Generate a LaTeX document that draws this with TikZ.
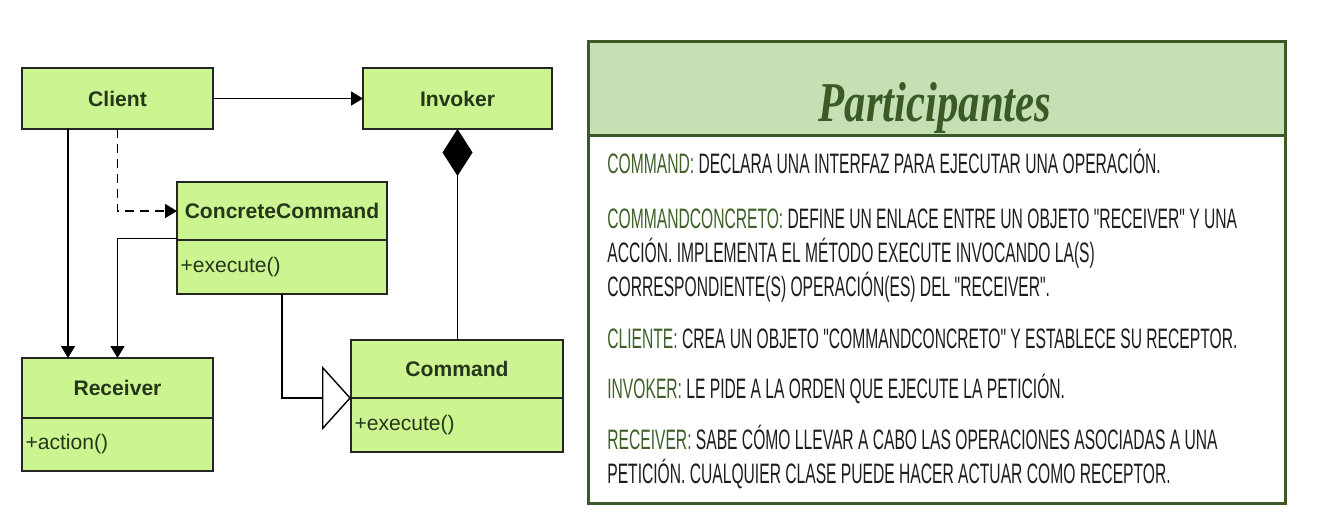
\documentclass[tikz,border=0pt]{standalone}
\usepackage{fontspec}
\usetikzlibrary{arrows.meta,positioning}
\newfontfamily\umlfont{Liberation Sans}
\newfontfamily\bodyfont[FakeStretch=0.556]{Liberation Sans}
\newfontfamily\titlefont[FakeStretch=0.76]{Liberation Serif}
\definecolor{umlgreen}{HTML}{CCF591}
\definecolor{umlink}{HTML}{26361A}
\definecolor{panelgreen}{HTML}{3B5A25}
\definecolor{hdrgreen}{HTML}{C5E0B5}
\definecolor{lblgreen}{HTML}{3F6129}
\definecolor{bodyink}{HTML}{1E1E1E}
\newcommand\lbl[1]{\textcolor{lblgreen}{#1}}
\begin{document}
\begin{tikzpicture}[x=0.02cm,y=-0.02cm,
  box/.style={draw=black!85, fill=umlgreen, line width=1pt, inner sep=0pt, outer sep=0pt,
    text=umlink, font=\umlfont\bfseries\fontsize{12}{14}\selectfont},
  ops/.style={box, font=\umlfont\fontsize{12}{14}\selectfont, align=left, inner xsep=2pt},
  arr/.style={line width=0.8pt, -{Triangle[length=0.24cm,width=0.28cm]}},
  para/.style={align=left, inner sep=0pt, anchor=base west, text=bodyink,
    font=\bodyfont\fontsize{16}{19.3}\selectfont}]
\path[use as bounding box, fill=white] (0,0) rectangle (1334,525);
% classes
\node[box, minimum width=3.82cm, minimum height=1.22cm] (client) at (117.5,98.5) {Client};
\node[box, minimum width=3.78cm, minimum height=1.22cm] (invoker) at (457.5,98.5) {Invoker};
\node[box, minimum width=4.2cm, minimum height=1.16cm] (cc) at (282,211) {ConcreteCommand};
\node[ops, text width=4.06cm, minimum height=1.08cm, below=0pt of cc] (ccops) {+execute()};
\node[box, minimum width=3.82cm, minimum height=1.2cm] (receiver) at (117.5,388) {Receiver};
\node[ops, text width=3.68cm, minimum height=1.06cm, below=0pt of receiver] (recops) {+action()};
\node[box, minimum width=4.24cm, minimum height=1.16cm] (command) at (457,369) {Command};
\node[ops, text width=4.1cm, minimum height=1.08cm, below=0pt of command] (cmdops) {+execute()};
% relations
\draw[arr] (client) -- (invoker);
\draw[arr] ([xshift=0.92cm]client.south west) -- ([xshift=0.92cm]receiver.north west);
\draw[arr, dash pattern=on 5pt off 3.5pt] (client.south) |- (cc.west);
\draw[arr] ([yshift=1pt]cc.south west) -| (receiver.north);
\draw[line width=0.8pt, -{Triangle[open,length=0.58cm,width=1.28cm]}] (ccops.south) |- (command.south west);
\draw[line width=0.8pt, {Diamond[length=0.94cm,width=0.6cm]}-] (invoker.south) -- (invoker.south |- command.north);
% participantes
\node[draw=panelgreen, line width=1.7pt, inner sep=0pt, minimum width=13.94cm, minimum height=9.24cm,
  anchor=north west] (panel) at (587,40) {};
\node[draw=panelgreen, fill=hdrgreen, line width=1.7pt, inner sep=0pt, minimum width=13.94cm,
  minimum height=1.88cm, anchor=north west] (hdr) at (panel.north west) {};
\node[anchor=base, inner sep=0pt, text=panelgreen, font=\titlefont\bfseries\itshape\fontsize{32}{36}\selectfont]
  (title) at (935,121) {Participantes};
% base = last line of each text
\node[para] (pcommand) at (607,173) {\lbl{COMMAND:} DECLARA UNA INTERFAZ PARA EJECUTAR UNA OPERACIÓN.};
\node[para] (pconcrete) at (607,296) {\lbl{COMMANDCONCRETO:} DEFINE UN ENLACE ENTRE UN OBJETO "RECEIVER" Y UNA\\
  ACCIÓN. IMPLEMENTA EL MÉTODO EXECUTE INVOCANDO LA(S)\\
  CORRESPONDIENTE(S) OPERACIÓN(ES) DEL "RECEIVER".};
\node[para] (pcliente) at (607,348) {\lbl{CLIENTE:} CREA UN OBJETO "COMMANDCONCRETO" Y ESTABLECE SU RECEPTOR.};
\node[para] (pinvoker) at (607,398) {\lbl{INVOKER:} LE PIDE A LA ORDEN QUE EJECUTE LA PETICIÓN.};
\node[para] (preceiver) at (607,483) {\lbl{RECEIVER:} SABE CÓMO LLEVAR A CABO LAS OPERACIONES ASOCIADAS A UNA\\
  PETICIÓN. CUALQUIER CLASE PUEDE HACER ACTUAR COMO RECEPTOR.};
\end{tikzpicture}
\end{document}
